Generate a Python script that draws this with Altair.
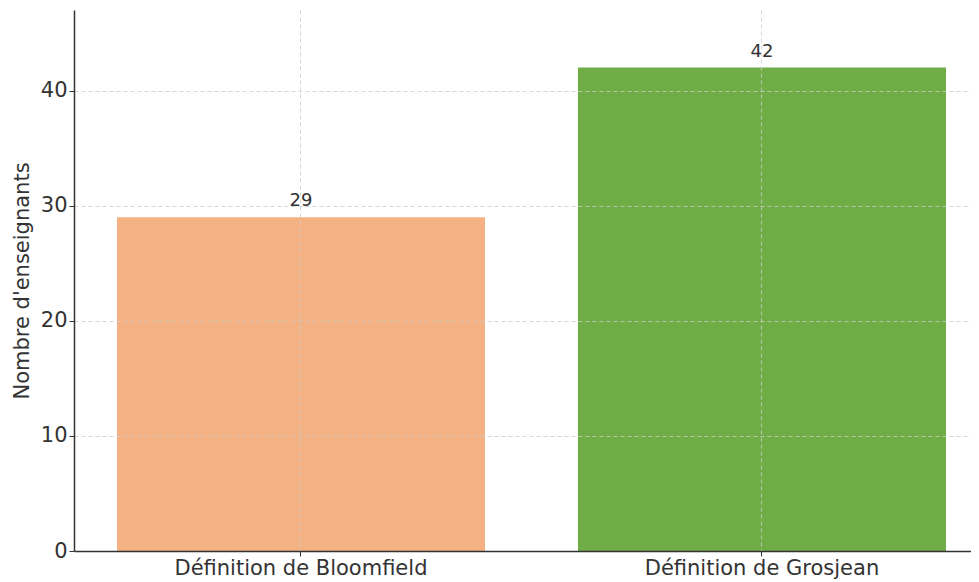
import altair as alt
import pandas as pd

categories = ["Définition de Bloomfield", "Définition de Grosjean"]
counts = [29, 42]
colors = ["#F4B183", "#70AD47"]
y_ticks = [0, 10, 20, 30, 40]

df = pd.DataFrame({"cat": categories, "n": counts, "color": colors})

FONT = "DejaVu Sans"
TXT = "#333333"

x_enc = alt.X(
    "cat:N",
    sort=categories,
    scale=alt.Scale(paddingInner=0.2017, paddingOuter=0.0737, align=0.632),
    axis=alt.Axis(
        title=None,
        labelAngle=0,
        labelFontSize=21,
        labelFont=FONT,
        labelColor=TXT,
        labelPadding=1,
        labelLimit=0,
        tickSize=5,
        tickColor=TXT,
        tickWidth=1,
        domainColor=TXT,
        domainWidth=1.5,
        grid=True,
        gridColor="#cccccc",
        gridDash=[4, 3],
        gridWidth=0.8,
        bandPosition=0.5,
        zindex=1,
    ),
)

y_enc = alt.Y(
    "n:Q",
    scale=alt.Scale(domain=[0, 47], nice=False),
    axis=alt.Axis(
        title="Nombre d'enseignants",
        titleFont=FONT,
        titleFontSize=21,
        titleFontWeight="normal",
        titleColor=TXT,
        titlePadding=8,
        values=y_ticks,
        labelFontSize=21,
        labelFont=FONT,
        labelColor=TXT,
        labelPadding=2,
        tickSize=5,
        tickColor=TXT,
        tickWidth=1,
        domainColor=TXT,
        domainWidth=1.5,
        grid=True,
        gridColor="#cccccc",
        gridDash=[4, 3],
        gridWidth=0.8,
        zindex=1,
    ),
)

bars = alt.Chart(df).mark_bar().encode(
    x=x_enc,
    y=y_enc,
    color=alt.Color("color:N", scale=None, legend=None),
)

labels = alt.Chart(df).mark_text(
    font=FONT, fontSize=18, color=TXT, baseline="alphabetic", dy=-11
).encode(
    x=alt.X("cat:N", sort=categories),
    y=alt.Y("n:Q"),
    text=alt.Text("n:Q"),
)

chart = (
    alt.layer(bars, labels)
    .properties(
        width=897,
        height=541,
        autosize=alt.AutoSizeParams(type="none"),
        padding={"left": 66, "top": 2, "right": 0, "bottom": 31},
        background="white",
    )
    .configure_view(strokeWidth=0, strokeOpacity=0)
)

chart.save("out.html", embed_options={"renderer": "svg", "actions": False})
